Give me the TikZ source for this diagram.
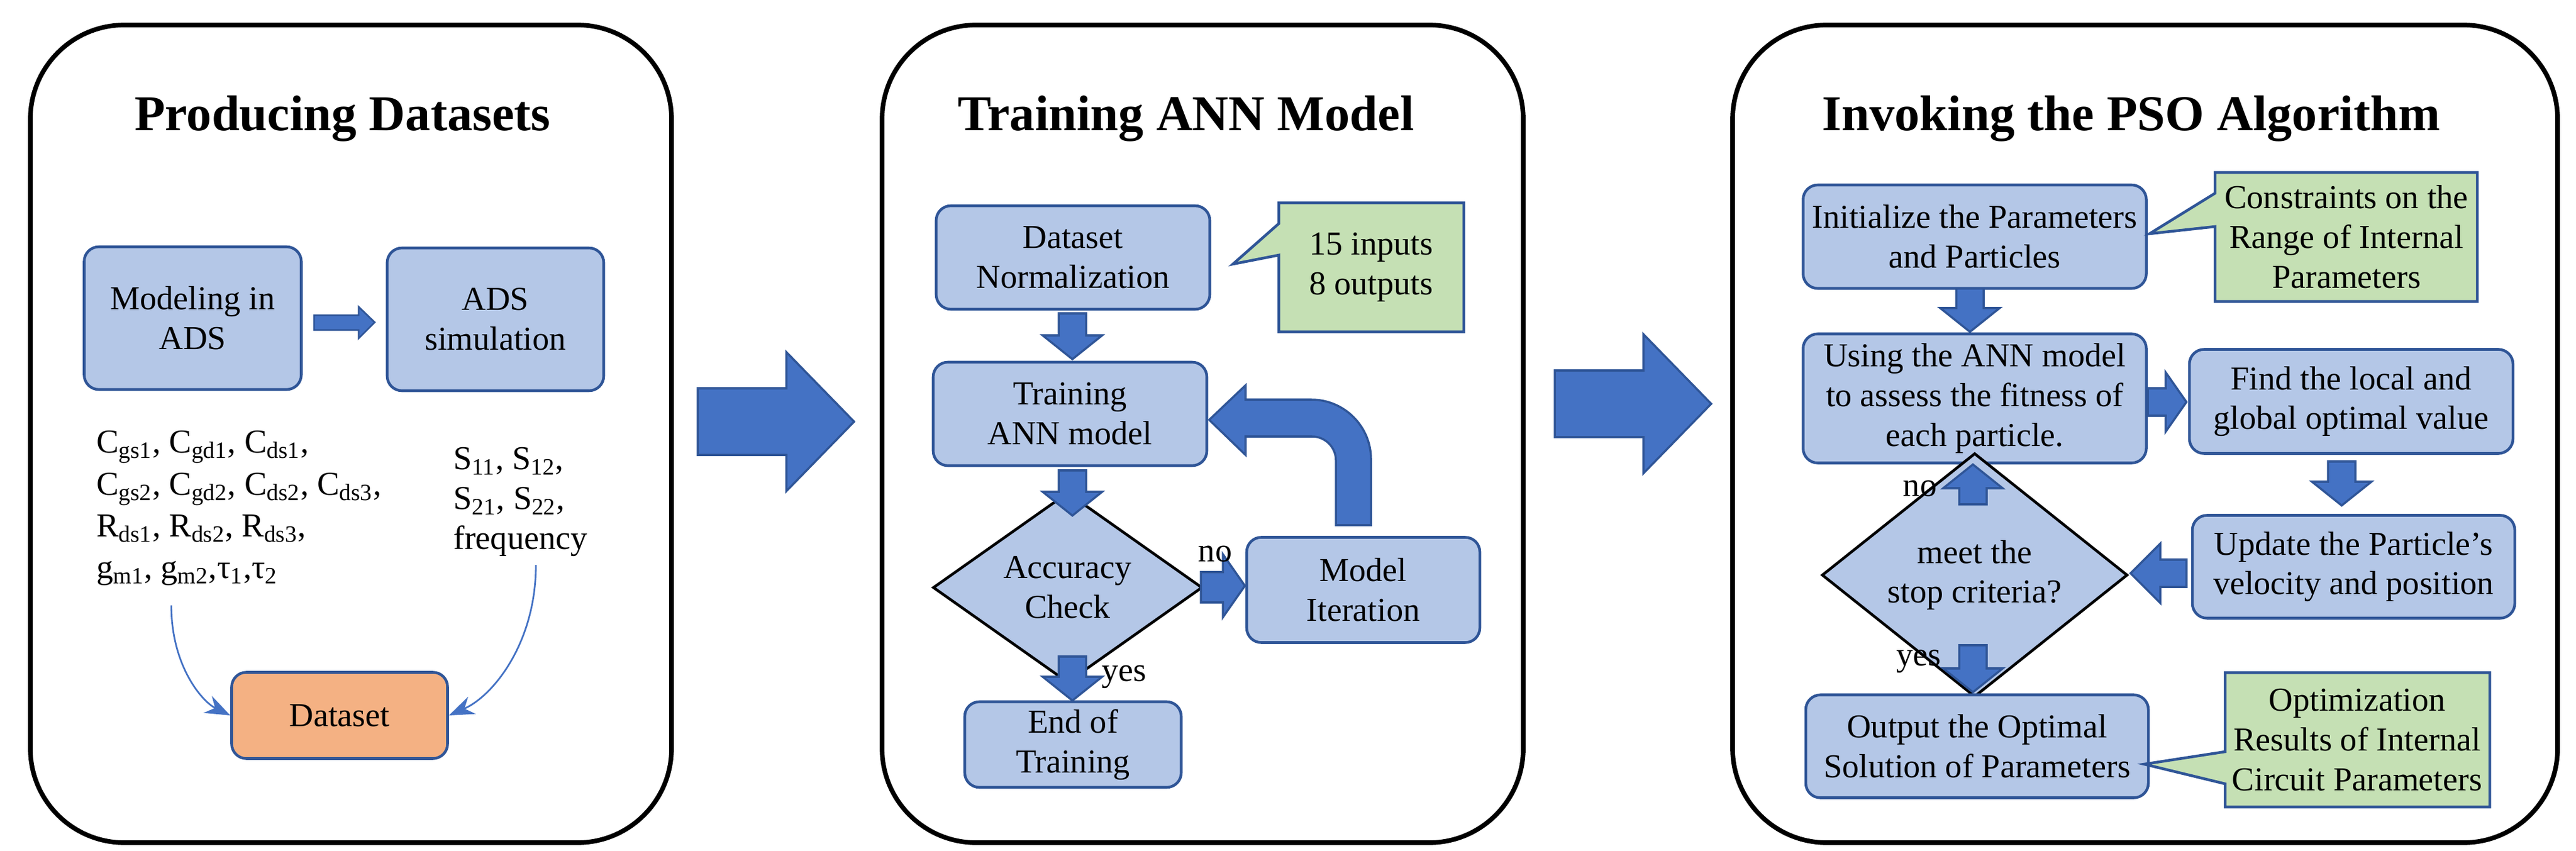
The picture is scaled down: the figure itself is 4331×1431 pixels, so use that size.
\documentclass[tikz,border=0pt]{standalone}
\usepackage{fontspec}
\setmainfont{Liberation Serif}
\usetikzlibrary{shapes.geometric,arrows.meta}
\definecolor{bfill}{HTML}{B4C7E7}
\definecolor{bline}{HTML}{2F5597}
\definecolor{afill}{HTML}{4472C4}
\definecolor{gfill}{HTML}{C5E0B4}
\definecolor{ofill}{HTML}{F4B183}
\newcommand\ArrDown[3]{\filldraw[barrow] (#1-23,#2) -- (#1+23,#2) -- (#1+23,#3-40) -- (#1+50,#3-40) -- (#1,#3) -- (#1-50,#3-40) -- (#1-23,#3-40) -- cycle;}
\newcommand\ArrUp[3]{\filldraw[barrow] (#1-23,#2) -- (#1+23,#2) -- (#1+23,#3+40) -- (#1+50,#3+40) -- (#1,#3) -- (#1-50,#3+40) -- (#1-23,#3+40) -- cycle;}
\newcommand\ArrRight[3]{\filldraw[barrow] (#2,#1-23) -- (#2,#1+23) -- (#3-35,#1+23) -- (#3-35,#1+50) -- (#3,#1) -- (#3-35,#1-50) -- (#3-35,#1-23) -- cycle;}
\newcommand\ArrLeft[3]{\filldraw[barrow] (#2,#1-23) -- (#2,#1+23) -- (#3+50,#1+23) -- (#3+50,#1+50) -- (#3,#1) -- (#3+50,#1-50) -- (#3+50,#1-23) -- cycle;}
\newcommand\BigArr[2]{\filldraw[barrow] (#1,#2-56) -- (#1+149,#2-56) -- (#1+149,#2-117) -- (#1+263,#2) -- (#1+149,#2+117) -- (#1+149,#2+56) -- (#1,#2+56) -- cycle;}
\begin{document}
\begin{tikzpicture}[x=0.01cm,y=-0.01cm,
  panel/.style={draw=black,line width=2.2pt,rounded corners=45pt},
  title/.style={font=\fontsize{24}{28}\selectfont\bfseries},
  box/.style={draw=bline,fill=bfill,line width=1.3pt,rounded corners=7pt,align=center,font=\fontsize{16}{19}\selectfont,inner sep=0pt},
  dia/.style={draw=black,fill=bfill,line width=1.3pt,diamond,align=center,font=\fontsize{16}{19}\selectfont,inner sep=0pt},
  callout/.style={draw=bline,fill=gfill,line width=1.3pt},
  ctext/.style={align=center,font=\fontsize{16}{19}\selectfont},
  txt/.style={font=\fontsize{16}{19}\selectfont},
  barrow/.style={draw=bline,fill=afill,line width=1pt},
  thin/.style={draw=afill,line width=0.8pt,-{Stealth[length=12pt,width=9pt]}}]
\useasboundingbox (0,0) rectangle (4331,1431);
% ---------- panel 1
\draw[panel] (51,42) rectangle (1129,1417);
\node[title] (t1) at (576,200) {Producing Datasets};
\node[box,minimum width=365*0.01cm,minimum height=240*0.01cm] (model) at (324,535) {Modeling in\\ADS};
\node[box,minimum width=364*0.01cm,minimum height=240*0.01cm] (sim) at (833,537) {ADS\\simulation};
\filldraw[barrow,line width=0.8pt] (528,530) -- (603,530) -- (603,516) -- (630,542) -- (603,569) -- (603,555) -- (528,555) -- cycle;
\node[txt,anchor=north west,align=left,font=\fontsize{16}{20}\selectfont] (params) at (150,712) {C\textsubscript{gs1}, C\textsubscript{gd1}, C\textsubscript{ds1},\\C\textsubscript{gs2}, C\textsubscript{gd2}, C\textsubscript{ds2}, C\textsubscript{ds3},\\R\textsubscript{ds1}, R\textsubscript{ds2}, R\textsubscript{ds3},\\g\textsubscript{m1}, g\textsubscript{m2},τ\textsubscript{1},τ\textsubscript{2}};
\node[txt,anchor=north west,align=left,font=\fontsize{16}{19}\selectfont] (sp) at (750,740) {S\textsubscript{11}, S\textsubscript{12},\\S\textsubscript{21}, S\textsubscript{22},\\frequency};
\node[box,fill=ofill,minimum width=363*0.01cm,minimum height=145*0.01cm] (ds) at (571,1203) {Dataset};
\coordinate (p1) at (288,1018);
\coordinate (p2) at (901,950);
\draw[thin] (p1) .. controls (288,1120) and (340,1180) .. (ds.west);
\draw[thin] (p2) .. controls (901,1080) and (830,1170) .. (ds.east);
\BigArr{1173}{709}
% ---------- panel 2
\draw[panel] (1483,42) rectangle (2561,1417);
\node[title] (t2) at (1994,200) {Training ANN Model};
\node[box,minimum width=460*0.01cm,minimum height=174*0.01cm] (norm) at (1804,433) {Dataset\\Normalization};
\filldraw[callout] (2150,341) -- (2461,341) -- (2461,558) -- (2150,558) -- (2150,429) -- (2073,444) -- (2150,376) -- cycle;
\node[ctext] (c1) at (2305,449) {15 inputs\\8 outputs};
\node[box,minimum width=460*0.01cm,minimum height=174*0.01cm] (train) at (1799,696) {Training\\ANN model};
\node[dia,minimum width=453*0.01cm,minimum height=232*0.01cm] (acc) at (1795,988) {Accuracy\\Check};
\node[box,minimum width=392*0.01cm,minimum height=177*0.01cm] (iter) at (2292,992) {Model\\Iteration};
\node[box,minimum width=364*0.01cm,minimum height=144*0.01cm] (end) at (1804,1252) {End of\\Training};
\ArrDown{1803}{527}{604}
\ArrDown{1803}{791}{867}
\ArrDown{1803}{1104}{1178}
\filldraw[barrow] (2019,962) -- (2056,962) -- (2056,932) -- (2093,985) -- (2056,1038) -- (2056,1013) -- (2019,1013) -- cycle;
\node[txt] (no1) at (2043,932) {no};
\node[txt] (yes1) at (1890,1138) {yes};
\filldraw[barrow] (2246,883) -- (2305,883) -- (2305,772) .. controls (2305,717) and (2260,672) .. (2205,672) -- (2094,672) -- (2094,648) -- (2033,706) -- (2094,765) -- (2094,734) -- (2206,734) .. controls (2228,734) and (2246,752) .. (2246,774) -- cycle;
\BigArr{2614}{679}
% ---------- panel 3
\draw[panel] (2913,42) rectangle (4300,1417);
\node[title] (t3) at (3583,200) {Invoking the PSO Algorithm};
\node[box,minimum width=577*0.01cm,minimum height=174*0.01cm] (init) at (3320,398) {Initialize the Parameters\\and Particles};
\filldraw[callout] (3724,290) -- (4165,290) -- (4165,507) -- (3724,507) -- (3724,381) -- (3614,393) -- (3724,325) -- cycle;
\node[ctext] (c2) at (3945,398) {Constraints on the\\Range of Internal\\Parameters};
\node[box,minimum width=577*0.01cm,minimum height=217*0.01cm] (use) at (3320,670) {Using the ANN model\\to assess the fitness of\\each particle.};
\node[box,minimum width=544*0.01cm,minimum height=175*0.01cm] (find) at (3953,675) {Find the local and\\global optimal value};
\node[box,minimum width=542*0.01cm,minimum height=173*0.01cm] (upd) at (3957,953) {Update the Particle's\\velocity and position};
\node[dia,minimum width=514*0.01cm,minimum height=233*0.01cm] (stop) at (3320,967) {meet the\\stop criteria?};
\node[box,minimum width=576*0.01cm,minimum height=173*0.01cm] (out) at (3324,1255) {Output the Optimal\\Solution of Parameters};
\filldraw[callout] (3741,1131) -- (4186,1131) -- (4186,1357) -- (3741,1357) -- (3741,1318) -- (3605,1285) -- (3741,1264) -- cycle;
\node[ctext] (c3) at (3963,1244) {Optimization\\Results of Internal\\Circuit Parameters};
\ArrDown{3312}{485}{558}
\ArrRight{676}{3611}{3676}
\ArrDown{3937}{776}{850}
\ArrLeft{964}{3676}{3582}
\ArrUp{3317}{848}{781}
\ArrDown{3317}{1085}{1164}
\node[txt] (no2) at (3228,822) {no};
\node[txt] (yes2) at (3226,1112) {yes};
\end{tikzpicture}
\end{document}
